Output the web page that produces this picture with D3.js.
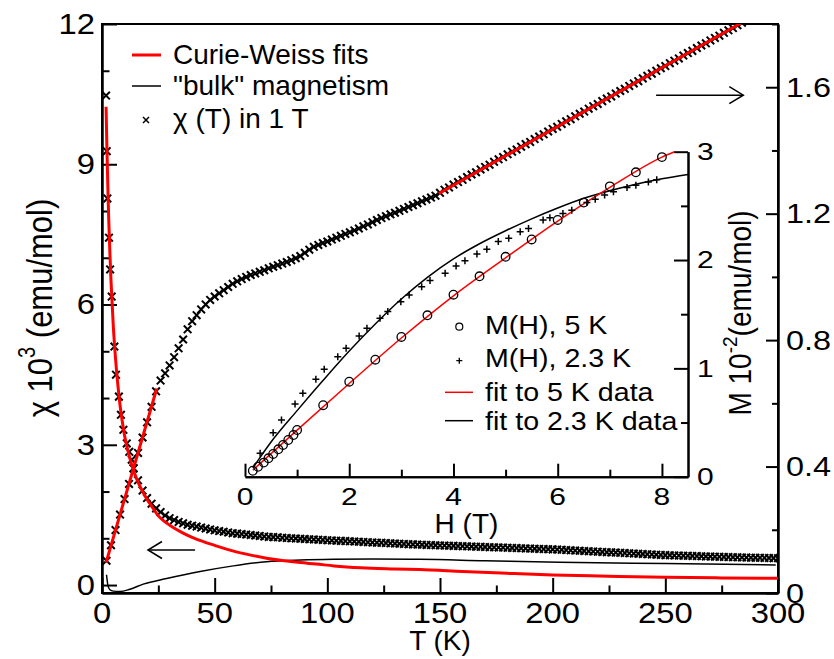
<!DOCTYPE html>
<html><head><meta charset="utf-8">
<script src="https://cdn.jsdelivr.net/npm/d3@7"></script>
<style>
html,body{margin:0;padding:0;background:#fff;}
svg{display:block;}
text{font-family:'Liberation Sans',Arial,Helvetica,sans-serif;fill:#000;}
</style></head>
<body>
<svg id="chart" width="834" height="659"></svg>
<script>
// ---------- data ----------
// chi(T) in 1 T, decreasing branch (left axis, chi*10^3 emu/mol)
const chiDownT = [1.8,2.1,2.4,3.1,3.6,4.3,5.5,6.2,7.5,8.4,9.5,11,12.1,13.2,
 14,16,18,20,22,24,26,28,30,32,34,36,38,40,42,44,46,48,50,52,54,56,58,60,62,64,66,68,70,72,74,76,78,80,
 82,84,86,88,90,92,94,96,98,100,102,104,106,108,110,112,114,116,118,120,122,124,126,128,130,132,134,136,138,140,
 142,144,146,148,150,152,154,156,158,160,162,164,166,168,170,172,174,176,178,180,182,184,186,188,190,192,194,196,198,200,
 202,204,206,208,210,212,214,216,218,220,222,224,226,228,230,232,234,236,238,240,242,244,246,248,250,252,254,256,258,260,
 262,264,266,268,270,272,274,276,278,280,282,284,286,288,290,292,294,296,298,300];
const chiDownV = [10.47,9.28,8.27,7.43,6.75,6.17,5.1,4.5,4.03,3.64,3.32,3.03,2.85,2.68,
 2.50,2.24,2.02,1.86,1.74,1.64,1.56,1.49,1.43,1.39,1.35,1.32,1.29,1.27,1.25,1.23,1.21,1.19,1.17,1.155,1.14,1.125,1.11,1.10,1.09,1.08,1.07,1.06,1.05,1.04,1.03,1.025,1.02,1.01,
 1.005,1.0,0.995,0.99,0.985,0.98,0.975,0.97,0.965,0.96,0.955,0.95,0.945,0.94,0.936,0.931,0.926,0.922,0.917,0.912,0.907,0.903,0.898,0.893,0.889,0.884,0.879,0.874,0.87,0.865,
 0.862,0.858,0.855,0.851,0.848,0.845,0.841,0.838,0.834,0.831,0.828,0.824,0.821,0.818,0.814,0.811,0.807,0.804,0.801,0.797,0.794,0.79,0.787,0.784,0.78,0.777,0.773,0.77,0.767,0.763,
 0.758,0.753,0.748,0.743,0.738,0.733,0.729,0.724,0.719,0.714,0.709,0.704,0.699,0.694,0.689,0.684,0.679,0.674,0.669,0.664,0.66,0.655,0.65,0.645,0.64,0.637,0.634,0.631,0.628,0.625,
 0.622,0.619,0.616,0.613,0.61,0.607,0.604,0.601,0.599,0.596,0.593,0.591,0.588,0.586,0.584,0.582,0.58,0.578,0.576,0.574];

// rising branch (right axis)
const chiUpT = [2,4,6,8,10,12,14,16,18,20,22,24,26,28,30,32,34,36,38,40,42,44,46,48,50,52,54,56,58,60,62,64,66,68,70,72,74,76,78,80,
 82,84,86,88,90,92,94,96,98,100,102,104,106,108,110,112,114,116,118,120,122,124,126,128,130,132,134,136,138,140,
 142,144,146,148,150,152,154,156,158,160,162,164,166,168,170,172,174,176,178,180,182,184,186,188,190,192,194,196,198,200,
 202,204,206,208,210,212,214,216,218,220,222,224,226,228,230,232,234,236,238,240,242,244,246,248,250,252,254,256,258,260,
 262,264,266,268,270,272,274,276,278,280,282,284,286];
const chiUpV = [0.102,0.151,0.199,0.248,0.297,0.345,0.394,0.443,0.492,0.540,0.589,0.638,0.672,0.695,0.720,0.746,0.774,0.802,0.834,0.860,
 0.879,0.897,0.913,0.927,0.938,0.948,0.958,0.968,0.978,0.986,0.993,1.000,1.006,1.011,1.016,1.021,1.027,1.032,1.037,1.042,
 1.047,1.053,1.059,1.066,1.076,1.086,1.095,1.101,1.107,1.112,1.118,1.124,1.130,1.136,1.141,1.147,1.153,1.160,1.166,1.173,
 1.180,1.186,1.192,1.198,1.203,1.209,1.215,1.221,1.227,1.233,1.239,1.245,1.251,1.257,1.266,1.276,1.283,1.292,1.300,1.307,
 1.316,1.324,1.331,1.340,1.348,1.355,1.364,1.372,1.379,1.388,1.396,1.403,1.412,1.420,1.427,1.436,1.444,1.451,1.460,1.468,
 1.475,1.484,1.492,1.499,1.508,1.516,1.523,1.532,1.540,1.547,1.556,1.564,1.571,1.580,1.588,1.595,1.604,1.612,1.619,1.628,
 1.636,1.643,1.652,1.660,1.667,1.676,1.684,1.691,1.700,1.708,1.715,1.724,1.732,1.739,1.748,1.756,1.763,1.772,1.780,1.787,
 1.796,1.804,1.811];

// Curie-Weiss fits
const cwDownT = [1.8,2.2,2.6,3.0,3.5,4,5,6,7,8,9,10,12,14,16,18,20,22,25,28,32,36,40,45,50,58,66,73,80,88,95,103,115,130,141,160,180,200,225,250,275,300];
const cwDownV = [10.23,9.3,8.5,7.8,7.1,6.5,5.55,4.85,4.3,3.85,3.5,3.2,2.78,2.45,2.2,2.0,1.83,1.69,1.48,1.35,1.22,1.11,1.02,0.93,0.85,0.73,0.64,0.575,0.525,0.48,0.45,0.41,0.37,0.345,0.33,0.29,0.25,0.215,0.19,0.167,0.153,0.143];
const cwLowT = [1.8,24.3];
const cwLowV = [0.096,0.647];
const cwHighT = [149.5,283.9];
const cwHighV = [1.264,1.804];

// "bulk" magnetism (left axis)
const bulkT = [2.0,2.6,3.5,5,8,12.4,18.3,28.7,43.5,58.3,73,88,102.7,120,141,170,203,250,299];
const bulkV = [0.22,0.0,-0.1,-0.13,-0.14,-0.09,0.02,0.14,0.29,0.41,0.5,0.535,0.55,0.555,0.55,0.52,0.49,0.46,0.43];

// arrows (T range, value)
const arrowLeftT = [20.4,41.3], arrowLeftV = 0.75;
const arrowRightT = [245.9,284.6], arrowRightV = 1.575;

// inset: M(H)
const m5H = [0.15,0.25,0.36,0.45,0.54,0.64,0.73,0.83,0.93,1.0,1.5,2.0,2.5,3.0,3.5,4.0,4.5,5.0,5.5,6.0,6.5,7.0,7.5,8.0];
const m5M = [0.055,0.092,0.13,0.17,0.21,0.253,0.293,0.339,0.385,0.431,0.66,0.877,1.08,1.29,1.49,1.68,1.85,2.03,2.19,2.37,2.53,2.68,2.81,2.95];
const m23H = [0.29,0.54,0.70,0.96,1.11,1.36,1.52,1.78,1.94,2.19,2.34,2.59,2.74,2.99,3.15,3.39,3.55,3.84,4.05,4.22,4.45,4.64,4.86,5.06,5.28,5.44,5.72,5.85,6.1,6.27,6.56,6.72,6.9,7.07,7.33,7.5,7.74,7.9];
const m23M = [0.216,0.406,0.524,0.671,0.770,0.899,0.992,1.108,1.186,1.299,1.370,1.463,1.524,1.616,1.678,1.754,1.81,1.878,1.946,1.994,2.056,2.10,2.17,2.2,2.26,2.29,2.37,2.39,2.43,2.46,2.53,2.56,2.6,2.63,2.67,2.69,2.72,2.74];
const fit5H = [0.15,1,2,3,4,5,6,7,8,8.24];
const fit5M = [0.06,0.43,0.86,1.28,1.67,2.02,2.36,2.67,2.95,3.0];
const fit23H = [0.15,0.5,1.0,1.5,2.0,2.5,3.0,3.5,4.0,4.5,5.0,5.5,6.0,6.5,7.0,7.5,8.0,8.5];
const fit23M = [0.08,0.32,0.61,0.89,1.16,1.41,1.64,1.84,2.01,2.15,2.27,2.38,2.48,2.57,2.64,2.70,2.75,2.79];

// ticks
const xMajor = [0,50,100,150,200,250,300], xMinor = [25,75,125,175,225,275];
const yLMajor = [0,3,6,9,12], yLMinor = [1,2,4,5,7,8,11];
const yRMajor = [0,0.4,0.8,1.2,1.6], yRMinor = [0.2,0.6,1.0,1.4,1.8];
const yRLabels = ["0","0.4","0.8","1.2","1.6"];
const hMajor = [0,2,4,6,8], hMinor = [1,3,5,7];
const mMajor = [0,1,2,3], mMinor = [0.5,1.5,2.5];

const legendMain = ["Curie-Weiss fits", "\"bulk\" magnetism", "\u03c7 (T) in 1 T"];
const legendInset = ["M(H), 5 K", "M(H), 2.3 K", "fit to 5 K data", "fit to 2.3 K data"];

// ---------- layout ----------
const L = 102, R = 778, T0 = 24, B = 593;
const iL = 245, iR = 688, iT = 151.7, iB = 476.7;

const svg = d3.select("#chart");
const x = d3.scaleLinear().domain([0,300]).range([L,R]);
const yL = d3.scaleLinear().domain([-0.17,12]).range([B,T0]);
const yR = d3.scaleLinear().domain([0,1.8]).range([B,T0]);
const xi = d3.scaleLinear().domain([0,8.5]).range([iL,iR]);
const yi = d3.scaleLinear().domain([0,3]).range([iB,iT]);

svg.append("clipPath").attr("id","clip").append("rect")
  .attr("x",L).attr("y",T0).attr("width",R-L).attr("height",B-T0);

function styleAxis(g){ g.selectAll("path,line").attr("stroke","#000").attr("stroke-width",2); g.selectAll("text").remove(); }
function label(x0,y0,txt,size,sx,anchor,base){
  svg.append("text").attr("transform",`translate(${x0},${y0}) scale(${sx},1)`)
    .attr("font-size",size).attr("text-anchor",anchor).attr("dominant-baseline",base).text(txt);
}

// main axes ticks
svg.append("g").attr("transform",`translate(0,${B})`).call(d3.axisTop(x).tickValues(xMajor).tickSize(15).tickSizeOuter(0)).call(styleAxis);
svg.append("g").attr("transform",`translate(0,${B})`).call(d3.axisTop(x).tickValues(xMinor).tickSize(7.5).tickSizeOuter(0)).call(styleAxis);
svg.append("g").attr("transform",`translate(${L},0)`).call(d3.axisRight(yL).tickValues(yLMajor).tickSize(15).tickSizeOuter(0)).call(styleAxis);
svg.append("g").attr("transform",`translate(${L},0)`).call(d3.axisRight(yL).tickValues(yLMinor).tickSize(7.5).tickSizeOuter(0)).call(styleAxis);
svg.append("g").attr("transform",`translate(${R},0)`).call(d3.axisLeft(yR).tickValues(yRMajor).tickSize(12).tickSizeOuter(0)).call(styleAxis);
svg.append("g").attr("transform",`translate(${R},0)`).call(d3.axisLeft(yR).tickValues(yRMinor).tickSize(6).tickSizeOuter(0)).call(styleAxis);
svg.append("rect").attr("x",L).attr("y",T0).attr("width",R-L).attr("height",B-T0)
  .attr("fill","none").attr("stroke","#000").attr("stroke-width",2);

// main tick labels
xMajor.forEach(v=>label(x(v),623,String(v),29,1.13,"middle","auto"));
yLMajor.forEach(v=>label(95,yL(v),String(v),29,1.13,"end","central"));
yRMajor.forEach((v,i)=>label(786,yR(v),yRLabels[i],27,1.2,"start","central"));

// axis titles
svg.append("text").attr("x",(L+R)/2).attr("y",650).attr("font-size",28).attr("text-anchor","middle").text("T (K)");
const yt = svg.append("text").attr("transform","translate(52,308) scale(1.15,1) rotate(-90)").attr("font-size",31).attr("text-anchor","middle");
yt.append("tspan").text("\u03c7 10");
yt.append("tspan").attr("font-size",20).attr("dy",-15).text("3");
yt.append("tspan").attr("dy",15).text(" (emu/mol)");

// main data
const plot = svg.append("g").attr("clip-path","url(#clip)");
const lineL = d3.line().x(d=>x(d[0])).y(d=>yL(d[1])).curve(d3.curveMonotoneX);
const lineR = d3.line().x(d=>x(d[0])).y(d=>yR(d[1])).curve(d3.curveMonotoneX);
const zip = (a,b)=>a.map((v,i)=>[v,b[i]]);
const xMark = s=>`M${-s},${-s}L${s},${s}M${-s},${s}L${s},${-s}`;

plot.append("path").datum(zip(bulkT,bulkV)).attr("d",lineL).attr("fill","none").attr("stroke","#000").attr("stroke-width",1.5);

plot.append("g").selectAll("path").data(zip(chiDownT,chiDownV)).join("path")
  .attr("transform",d=>`translate(${x(d[0])},${yL(d[1])})`).attr("d",xMark(3.8))
  .attr("stroke","#000").attr("stroke-width",2).attr("fill","none");
plot.append("g").selectAll("path").data(zip(chiUpT,chiUpV)).join("path")
  .attr("transform",d=>`translate(${x(d[0])},${yR(d[1])})`).attr("d",xMark(3.8))
  .attr("stroke","#000").attr("stroke-width",2).attr("fill","none");

plot.append("path").datum(zip(cwDownT,cwDownV)).attr("d",lineL).attr("fill","none").attr("stroke","#ff0000").attr("stroke-width",3);
plot.append("path").datum(zip(cwLowT,cwLowV)).attr("d",lineR).attr("fill","none").attr("stroke","#ff0000").attr("stroke-width",3);
plot.append("path").datum(zip(cwHighT,cwHighV)).attr("d",lineR).attr("fill","none").attr("stroke","#ff0000").attr("stroke-width",3);

// arrows
function arrow(x1,x2,yy,dir){
  const g = svg.append("g").attr("stroke","#000").attr("stroke-width",1.5).attr("fill","none");
  g.append("line").attr("x1",x1).attr("x2",x2).attr("y1",yy).attr("y2",yy);
  const tip = dir<0 ? x1 : x2, back = tip - dir*14;
  g.append("path").attr("d",`M${back},${yy-8.5}L${tip},${yy}L${back},${yy+8.5}`);
}
arrow(x(arrowLeftT[0]),x(arrowLeftT[1]),yL(arrowLeftV),-1);
arrow(x(arrowRightT[0]),x(arrowRightT[1]),yR(arrowRightV),1);

// main legend
svg.append("line").attr("x1",132).attr("x2",161).attr("y1",55).attr("y2",55).attr("stroke","#ff0000").attr("stroke-width",3);
svg.append("line").attr("x1",132).attr("x2",161).attr("y1",86).attr("y2",86).attr("stroke","#000").attr("stroke-width",1.5);
svg.append("path").attr("transform","translate(146,120)").attr("d",xMark(3)).attr("stroke","#000").attr("stroke-width",1.5);
[64,95,128].forEach((yy,i)=>svg.append("text").attr("x",173).attr("y",yy).attr("font-size",28).text(legendMain[i]));

// ---------- inset ----------
svg.append("g").attr("transform",`translate(0,${iB})`).call(d3.axisTop(xi).tickValues(hMajor).tickSize(13).tickSizeOuter(0)).call(styleAxis);
svg.append("g").attr("transform",`translate(0,${iB})`).call(d3.axisTop(xi).tickValues(hMinor).tickSize(7).tickSizeOuter(0)).call(styleAxis);
svg.append("g").attr("transform",`translate(${iR},0)`).call(d3.axisLeft(yi).tickValues(mMajor).tickSize(14).tickSizeOuter(0)).call(styleAxis);
svg.append("g").attr("transform",`translate(${iR},0)`).call(d3.axisLeft(yi).tickValues(mMinor).tickSize(7).tickSizeOuter(0)).call(styleAxis);

hMajor.forEach(v=>label(xi(v),505,String(v),24,1.25,"middle","auto"));
mMajor.forEach(v=>label(697,yi(v),String(v),24,1.25,"start","central"));
svg.append("text").attr("x",(iL+iR)/2).attr("y",533).attr("font-size",28).attr("text-anchor","middle").text("H (T)");
const it = svg.append("text").attr("transform","translate(751,313) scale(1.1,1) rotate(-90)").attr("font-size",28).attr("text-anchor","middle");
it.append("tspan").text("M 10");
it.append("tspan").attr("font-size",19).attr("dy",-13).text("-2");
it.append("tspan").attr("dy",13).text("(emu/mol)");

const lineI = d3.line().x(d=>xi(d[0])).y(d=>yi(d[1])).curve(d3.curveMonotoneX);
svg.append("path").datum(zip(fit23H,fit23M)).attr("d",lineI).attr("fill","none").attr("stroke","#000").attr("stroke-width",1.5);
svg.append("path").datum(zip(fit5H,fit5M)).attr("d",lineI).attr("fill","none").attr("stroke","#ff0000").attr("stroke-width",1.5);
svg.append("g").selectAll("circle").data(zip(m5H,m5M)).join("circle")
  .attr("cx",d=>xi(d[0])).attr("cy",d=>yi(d[1])).attr("r",4.3)
  .attr("fill","none").attr("stroke","#000").attr("stroke-width",1.3);
svg.append("g").selectAll("path").data(zip(m23H,m23M)).join("path")
  .attr("transform",d=>`translate(${xi(d[0])},${yi(d[1])})`).attr("d","M-3.5,0H3.5M0,-3.5V3.5")
  .attr("stroke","#000").attr("stroke-width",1.5);

// inset legend
svg.append("circle").attr("cx",459.3).attr("cy",326.7).attr("r",3.5).attr("fill","none").attr("stroke","#000").attr("stroke-width",1.2);
svg.append("path").attr("transform","translate(459.3,360.7)").attr("d","M-3,0H3M0,-3V3").attr("stroke","#000").attr("stroke-width",1.3);
svg.append("line").attr("x1",445).attr("x2",473).attr("y1",392.3).attr("y2",392.3).attr("stroke","#ff0000").attr("stroke-width",1.5);
svg.append("line").attr("x1",445).attr("x2",473).attr("y1",420.7).attr("y2",420.7).attr("stroke","#000").attr("stroke-width",1.5);
[334,367,401,430].forEach((yy,i)=>label(485,yy,legendInset[i],26,1.1,"start","auto"));
</script>
</body></html>
